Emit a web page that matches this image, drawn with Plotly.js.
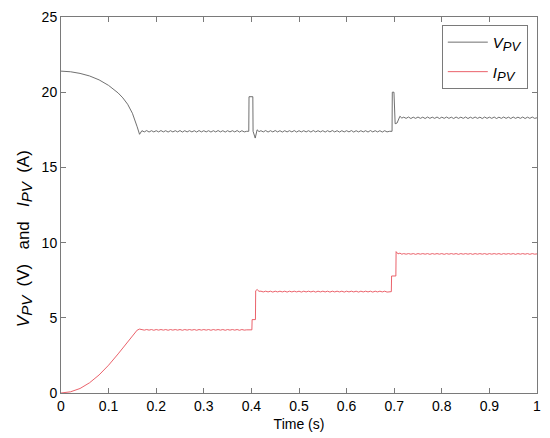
<!DOCTYPE html>
<html>
<head>
<meta charset="utf-8">
<script src="https://cdn.plot.ly/plotly-3.0.1.min.js"></script>
<style>html,body{margin:0;padding:0;background:#fff;}#chart{width:550px;height:438px;}</style>
</head>
<body>
<div id="chart"></div>
<script>
// Start-up (0 - 0.165 s)
const tStart = [0, 0.02, 0.04, 0.06, 0.08, 0.10, 0.12, 0.13, 0.14, 0.15, 0.16, 0.165];
const vStart = [21.4, 21.36, 21.25, 21.08, 20.82, 20.45, 19.95, 19.62, 19.2, 18.6, 17.7, 17.2];
const iStart = [0, 0.08, 0.3, 0.68, 1.2, 1.85, 2.6, 2.98, 3.38, 3.78, 4.18, 4.25];

// Steady state 1 (0.17 - 0.39 s)
const tSeg1 = [0.17,0.175,0.18,0.185,0.19,0.195,0.2,0.205,0.21,0.215,0.22,0.225,0.23,0.235,0.24,0.245,0.25,0.255,0.26,0.265,0.27,0.275,0.28,0.285,0.29,0.295,0.3,0.305,0.31,0.315,0.32,0.325,0.33,0.335,0.34,0.345,0.35,0.355,0.36,0.365,0.37,0.375,0.38,0.385,0.39];
const vSeg1 = [17.44,17.36,17.45,17.35,17.44,17.36,17.44,17.36,17.45,17.36,17.44,17.35,17.44,17.36,17.44,17.36,17.45,17.35,17.44,17.36,17.44,17.36,17.44,17.35,17.45,17.36,17.44,17.36,17.44,17.35,17.44,17.36,17.45,17.36,17.44,17.35,17.44,17.36,17.44,17.36,17.45,17.35,17.44,17.36,17.4];
const iSeg1 = [4.22,4.18,4.22,4.18,4.22,4.17,4.22,4.18,4.22,4.18,4.22,4.17,4.22,4.18,4.22,4.18,4.22,4.17,4.22,4.18,4.22,4.18,4.22,4.17,4.22,4.18,4.22,4.18,4.22,4.17,4.22,4.18,4.22,4.18,4.22,4.17,4.22,4.18,4.22,4.18,4.22,4.17,4.22,4.18,4.2];

// Step change near 0.4 s
const tStepV1 = [0.3945, 0.395, 0.403, 0.4035, 0.408, 0.412, 0.416];
const vStep1 = [17.4, 19.7, 19.7, 17.4, 16.95, 17.5, 17.38];
const tStepI1 = [0.395, 0.401, 0.4015, 0.4085, 0.409, 0.412, 0.416];
const iStep1 = [4.2, 4.2, 4.88, 4.88, 6.8, 6.88, 6.76];

// Steady state 2 (0.42 - 0.69 s)
const tSeg2 = [0.42,0.425,0.43,0.435,0.44,0.445,0.45,0.455,0.46,0.465,0.47,0.475,0.48,0.485,0.49,0.495,0.5,0.505,0.51,0.515,0.52,0.525,0.53,0.535,0.54,0.545,0.55,0.555,0.56,0.565,0.57,0.575,0.58,0.585,0.59,0.595,0.6,0.605,0.61,0.615,0.62,0.625,0.63,0.635,0.64,0.645,0.65,0.655,0.66,0.665,0.67,0.675,0.68,0.685,0.69];
const vSeg2 = [17.44,17.36,17.45,17.35,17.44,17.36,17.45,17.36,17.44,17.35,17.44,17.36,17.44,17.36,17.45,17.35,17.44,17.36,17.44,17.36,17.44,17.35,17.45,17.36,17.44,17.36,17.44,17.35,17.44,17.36,17.45,17.36,17.44,17.35,17.44,17.36,17.44,17.36,17.45,17.35,17.44,17.36,17.44,17.36,17.44,17.35,17.45,17.36,17.44,17.36,17.44,17.35,17.44,17.36,17.4];
const iSeg2 = [6.77,6.72,6.77,6.72,6.77,6.71,6.77,6.72,6.77,6.72,6.77,6.71,6.77,6.72,6.77,6.72,6.77,6.71,6.77,6.72,6.77,6.72,6.77,6.71,6.77,6.72,6.77,6.72,6.77,6.71,6.77,6.72,6.77,6.72,6.77,6.71,6.77,6.72,6.77,6.72,6.77,6.71,6.77,6.72,6.77,6.72,6.77,6.71,6.77,6.72,6.77,6.72,6.77,6.71,6.74];

// Step change near 0.7 s
const tStepV2 = [0.6955, 0.696, 0.6995, 0.702, 0.706, 0.712, 0.716];
const vStep2 = [17.4, 20.0, 20.0, 17.9, 17.95, 18.4, 18.28];
const tStepI2 = [0.694, 0.6945, 0.7035, 0.704, 0.708, 0.712, 0.716];
const iStep2 = [6.74, 7.78, 7.78, 9.4, 9.25, 9.3, 9.23];

// Steady state 3 (0.72 - 1.0 s)
const tSeg3 = [0.72,0.725,0.73,0.735,0.74,0.745,0.75,0.755,0.76,0.765,0.77,0.775,0.78,0.785,0.79,0.795,0.8,0.805,0.81,0.815,0.82,0.825,0.83,0.835,0.84,0.845,0.85,0.855,0.86,0.865,0.87,0.875,0.88,0.885,0.89,0.895,0.9,0.905,0.91,0.915,0.92,0.925,0.93,0.935,0.94,0.945,0.95,0.955,0.96,0.965,0.97,0.975,0.98,0.985,0.99,0.995,1.0];
const vSeg3 = [18.34,18.26,18.35,18.25,18.34,18.26,18.35,18.26,18.34,18.25,18.35,18.26,18.34,18.26,18.35,18.25,18.34,18.26,18.35,18.26,18.34,18.25,18.35,18.26,18.34,18.26,18.35,18.25,18.34,18.26,18.35,18.26,18.34,18.25,18.35,18.26,18.34,18.26,18.35,18.25,18.34,18.26,18.35,18.26,18.34,18.25,18.35,18.26,18.34,18.26,18.35,18.25,18.34,18.26,18.35,18.26,18.3];
const iSeg3 = [9.27,9.23,9.27,9.23,9.27,9.22,9.27,9.23,9.27,9.23,9.27,9.22,9.27,9.23,9.27,9.23,9.27,9.22,9.27,9.23,9.27,9.23,9.27,9.22,9.27,9.23,9.27,9.23,9.27,9.22,9.27,9.23,9.27,9.23,9.27,9.22,9.27,9.23,9.27,9.23,9.27,9.22,9.27,9.23,9.27,9.23,9.27,9.22,9.27,9.23,9.27,9.23,9.27,9.22,9.27,9.23,9.25];

const xTicks = [0,0.1,0.2,0.3,0.4,0.5,0.6,0.7,0.8,0.9,1];
const xTickText = ['0','0.1','0.2','0.3','0.4','0.5','0.6','0.7','0.8','0.9','1'];
const yTicks = [0,5,10,15,20,25];

const tV = [].concat(tStart, tSeg1, tStepV1, tSeg2, tStepV2, tSeg3);
const vAll = [].concat(vStart, vSeg1, vStep1, vSeg2, vStep2, vSeg3);
const tI = [].concat(tStart, tSeg1, tStepI1, tSeg2, tStepI2, tSeg3);
const iAll = [].concat(iStart, iSeg1, iStep1, iSeg2, iStep2, iSeg3);

const font = 'Arial, "Liberation Sans", sans-serif';
const axisCommon = {
  showline: true, mirror: 'ticks', linecolor: '#7a7a7a', linewidth: 1,
  ticks: 'inside', ticklen: 5, tickcolor: '#7a7a7a', tickwidth: 1,
  showgrid: false, zeroline: false,
  tickfont: {family: font, size: 14, color: '#000'}
};

function sub(s, size) {
  return '<sub><span style="font-size:' + size + 'px">' + s + '</span></sub>';
}

const traces = [
  {x: tV, y: vAll, mode: 'lines', name: '<i>V' + sub('PV', 13) + '</i>',
   legendgroup: 'v', line: {color: '#606060', width: 0.9}},
  {x: tI, y: iAll, mode: 'lines', name: '<i>I' + sub('PV', 13) + '</i>',
   legendgroup: 'i', line: {color: '#e8505a', width: 0.9}}
];

const layout = {
  width: 550, height: 438,
  margin: {l: 61, r: 13, t: 17, b: 45},
  paper_bgcolor: '#fff', plot_bgcolor: '#fff',
  showlegend: true,
  legend: {x: 0.8, y: 0.979, xanchor: 'left', yanchor: 'top',
    bordercolor: '#7a7a7a', borderwidth: 1, bgcolor: '#fff',
    traceorder: 'grouped', tracegroupgap: 7, itemwidth: 40,
    font: {family: font, size: 15, color: '#000'}},
  xaxis: Object.assign({}, axisCommon, {
    range: [0, 1], tickvals: xTicks, ticktext: xTickText,
    title: {text: 'Time (s)', font: {family: font, size: 14, color: '#000'}, standoff: 6}
  }),
  yaxis: Object.assign({}, axisCommon, {
    range: [0, 25], tickvals: yTicks
  }),
  annotations: [{
    xref: 'paper', yref: 'paper', x: -0.077, y: 0.41,
    xanchor: 'center', yanchor: 'middle', textangle: -90, showarrow: false,
    text: '<i>V</i>' + sub('<i>PV</i>', 15) + '  (V)   and   <i>I</i>' + sub('<i>PV</i>', 15) + '  (A)',
    font: {family: font, size: 17, color: '#000'}
  }]
};

Plotly.newPlot('chart', traces, layout, {displayModeBar: false, staticPlot: true});
</script>
</body>
</html>
